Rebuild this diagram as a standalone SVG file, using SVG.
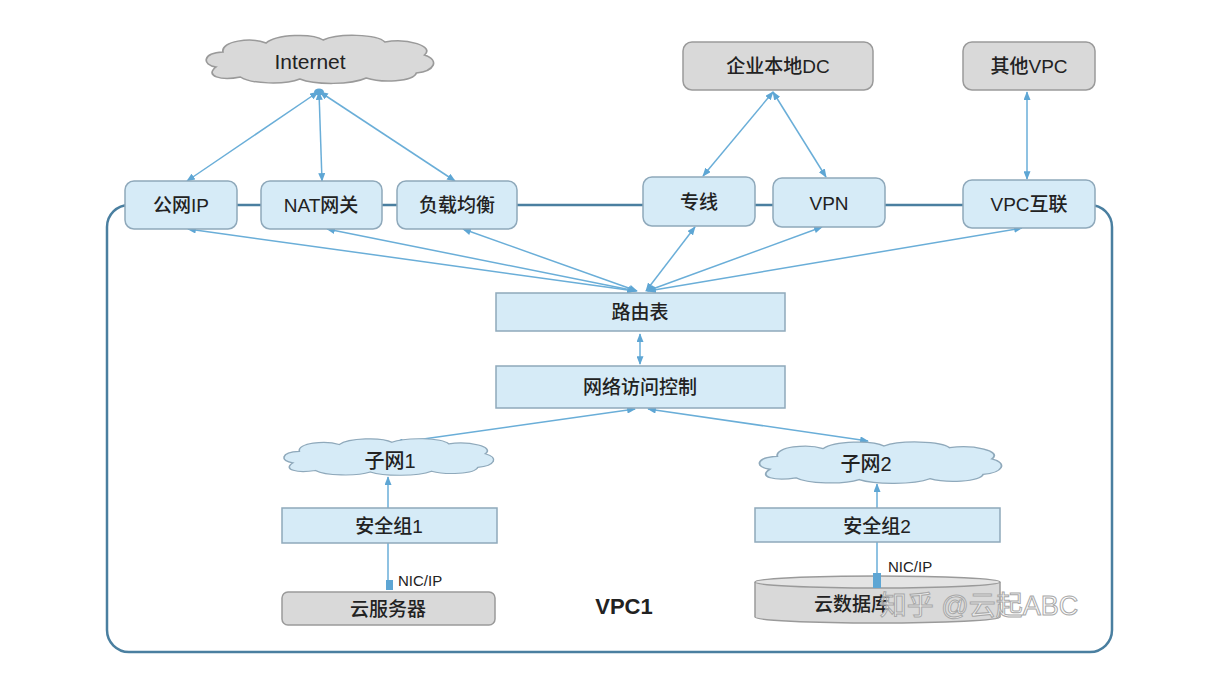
<svg xmlns="http://www.w3.org/2000/svg" width="1210" height="682" viewBox="0 0 1210 682">
<defs>
<marker id="ah" viewBox="0 0 10 8" refX="9" refY="4" markerWidth="9" markerHeight="7" markerUnits="userSpaceOnUse" orient="auto-start-reverse">
<path d="M0,0 L10,4 L0,8 z" fill="#5ea6d4"/>
</marker>
<path id="cloud" d="M 12,34 C 0,32 0,20 18,19 C 16,8 42,4 55,10 C 64,1 95,0 104,7 C 117,0 150,1 157,9 C 176,5 200,13 191,22 C 204,27 200,38 184,40 C 181,49 154,50 141,45 C 128,52 97,52 84,46 C 71,52 42,51 33,44 C 16,48 2,43 12,34 Z"/>
</defs>
<style>
text{font-family:"Liberation Sans","Noto Sans CJK SC",sans-serif;fill:#222;text-anchor:middle;dominant-baseline:central}
.lbl{font-size:19px;font-weight:500}
.box{fill:#d6ebf7;stroke:#8fa9bb;stroke-width:1.5}
.gbox{fill:#d9d9d9;stroke:#9a9a9a;stroke-width:1.5}
.c{stroke:#6aaed8;stroke-width:1.5;fill:none}
.ca{stroke:#6aaed8;stroke-width:1.5;fill:none;marker-start:url(#ah);marker-end:url(#ah)}
.cl{stroke-width:1.5;vector-effect:non-scaling-stroke}
</style>
<rect width="1210" height="682" fill="#ffffff"/>

<g id="vpc1">
<rect x="107" y="205" width="1005" height="447" rx="22" fill="none" stroke="#4a7fa0" stroke-width="2.5"/>
<text x="624" y="606" style="font-size:22px;font-weight:bold">VPC1</text>
</g>

<g id="connectors">
<line class="ca" x1="318" y1="92" x2="187" y2="181"/>
<line class="ca" x1="319" y1="92" x2="322" y2="181"/>
<line class="ca" x1="320" y1="92" x2="455" y2="181"/>
<ellipse cx="319" cy="92" rx="5" ry="3.5" fill="#5ea6d4"/>
<line class="ca" x1="773" y1="92" x2="703" y2="176"/>
<line class="ca" x1="773" y1="92" x2="826" y2="177"/>
<line class="ca" x1="1027" y1="92" x2="1027" y2="179"/>
<line class="ca" x1="635" y1="291" x2="188" y2="229"/>
<line class="ca" x1="636" y1="291" x2="327" y2="229"/>
<line class="ca" x1="637" y1="291" x2="463" y2="229"/>
<line class="ca" x1="646" y1="291" x2="695" y2="227"/>
<line class="ca" x1="647" y1="291" x2="822" y2="227"/>
<line class="ca" x1="648" y1="291" x2="1022" y2="228"/>
<line class="ca" x1="640" y1="334" x2="640" y2="364"/>
<line class="ca" x1="635" y1="409" x2="395" y2="443"/>
<line class="ca" x1="648" y1="409" x2="868" y2="441"/>
<line class="c" x1="388" y1="508" x2="388" y2="477" marker-end="url(#ah)"/>
<line class="c" x1="388" y1="543" x2="388" y2="584"/>
<line class="c" x1="877" y1="508" x2="877" y2="484" marker-end="url(#ah)"/>
<line class="c" x1="877" y1="542" x2="877" y2="576"/>
</g>

<g id="internet">
<use href="#cloud" transform="translate(202,33) scale(1.165,1)" fill="#d9d9d9" stroke="#9a9a9a" class="cl"/>
<text x="310" y="61" style="font-size:21px">Internet</text>
</g>
<g id="dc">
<rect class="gbox" x="683" y="42" width="190" height="48" rx="9"/>
<text class="lbl" x="778" y="66">企业本地DC</text>
</g>
<g id="othervpc">
<rect class="gbox" x="963" y="42" width="132" height="48" rx="9"/>
<text class="lbl" x="1029" y="66">其他VPC</text>
</g>

<g id="publicip">
<rect class="box" x="125" y="181" width="112" height="48" rx="9"/>
<text class="lbl" x="181" y="205">公网IP</text>
</g>
<g id="nat">
<rect class="box" x="261" y="181" width="121" height="48" rx="9"/>
<text class="lbl" x="321" y="205">NAT网关</text>
</g>
<g id="lb">
<rect class="box" x="397" y="181" width="120" height="48" rx="9"/>
<text class="lbl" x="457" y="205">负载均衡</text>
</g>
<g id="line">
<rect class="box" x="643" y="177" width="112" height="49" rx="9"/>
<text class="lbl" x="699" y="202">专线</text>
</g>
<g id="vpn">
<rect class="box" x="773" y="178" width="112" height="49" rx="9"/>
<text class="lbl" x="829" y="203">VPN</text>
</g>
<g id="peering">
<rect class="box" x="963" y="180" width="132" height="48" rx="9"/>
<text class="lbl" x="1029" y="204">VPC互联</text>
</g>

<g id="routetable">
<rect class="box" x="496" y="293" width="289" height="38"/>
<text class="lbl" x="640" y="312">路由表</text>
</g>
<g id="acl">
<rect class="box" x="496" y="366" width="289" height="42"/>
<text class="lbl" x="640" y="387">网络访问控制</text>
</g>

<g id="subnet1">
<use href="#cloud" transform="translate(280,437) scale(1.075,0.76)" fill="#d6ebf7" stroke="#8fa9bb" class="cl"/>
<text class="lbl" x="390" y="461" style="font-size:20px">子网1</text>
</g>
<g id="sg1">
<rect class="box" x="282" y="508" width="215" height="35"/>
<text class="lbl" x="389" y="526">安全组1</text>
</g>
<g id="ecs">
<rect x="386" y="580" width="7" height="10" fill="#5ea6d4"/>
<text x="398" y="580" style="font-size:15px;text-anchor:start">NIC/IP</text>
<rect class="gbox" x="282" y="592" width="213" height="33" rx="6"/>
<text class="lbl" x="388" y="609">云服务器</text>
</g>

<g id="subnet2">
<use href="#cloud" transform="translate(755,440) scale(1.24,0.86)" fill="#d6ebf7" stroke="#8fa9bb" class="cl"/>
<text class="lbl" x="866" y="464" style="font-size:20px">子网2</text>
</g>
<g id="sg2">
<rect class="box" x="755" y="508" width="245" height="34"/>
<text class="lbl" x="877" y="526">安全组2</text>
</g>
<g id="db">
<path d="M755,582 L755,617 A122.5,6 0 0 0 1000,617 L1000,582" fill="#d9d9d9" stroke="#9a9a9a" stroke-width="1.5"/>
<ellipse cx="877.5" cy="582" rx="122.5" ry="6" fill="#e4e4e4" stroke="#9a9a9a" stroke-width="1.5"/>
<rect x="873" y="573" width="8" height="15" fill="#5ea6d4"/>
<text x="888" y="566" style="font-size:15px;text-anchor:start">NIC/IP</text>
<text class="lbl" x="852" y="604">云数据库</text>
</g>

<g id="watermark">
<text x="979" y="606" style="font-size:27px;fill:#ffffff;fill-opacity:0.55;stroke:#a8a8a8;stroke-width:1">知乎 @云起ABC</text>
</g>
</svg>
